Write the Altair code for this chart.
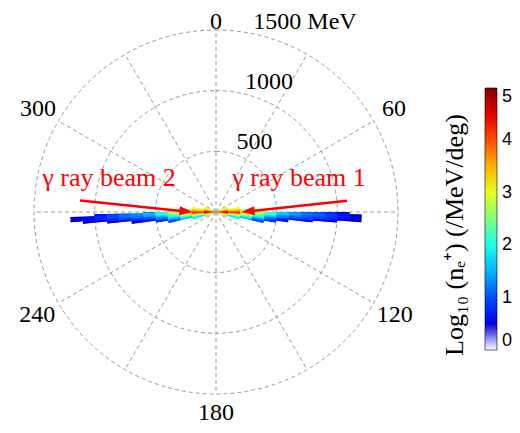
import altair as alt
import pandas as pd

# ---------------- data ----------------
# energy bins (MeV, radial) and angular bins (deg away from the beam axis, + = below horizontal)
E_EDGES = [0, 100, 200, 300, 400, 500, 600, 700, 800, 900, 1000, 1100, 1200]
D_EDGES = [-24, -12, -6, -3, 0, 1, 2, 3, 4, 5, 6, 8, 10, 13, 18, 26]

# log10(n_e+) per (energy bin row, angle bin column); 0 = empty
BEAM1_LOG10 = [  # right-hand lobe, beam axis at 90 deg
    [3.1, 3.7, 4.1, 4.4, 4.6, 4.7, 4.7, 4.6, 4.5, 4.4, 4.2, 3.9, 3.6, 3.2, 2.6],
    [0.0, 3.0, 3.5, 3.9, 4.2, 4.3, 4.2, 4.1, 3.9, 3.7, 3.3, 2.9, 2.4, 1.8, 0.0],
    [0.0, 0.0, 2.6, 3.2, 3.5, 3.6, 3.5, 3.3, 3.1, 2.9, 2.5, 2.1, 1.6, 0.0, 0.0],
    [0.0, 0.0, 0.0, 2.4, 2.8, 2.9, 2.7, 2.5, 2.3, 2.1, 1.8, 1.4, 1.0, 0.0, 0.0],
    [0.0, 0.0, 0.0, 0.0, 2.1, 2.2, 2.0, 1.8, 1.6, 1.4, 1.1, 0.8, 0.0, 0.0, 0.0],
    [0.0, 0.0, 0.0, 0.0, 1.6, 1.7, 1.5, 1.3, 1.2, 1.0, 0.7, 0.0, 0.0, 0.0, 0.0],
    [0.0, 0.0, 0.0, 0.0, 1.3, 1.4, 1.3, 1.1, 1.0, 0.7, 0.0, 0.0, 0.0, 0.0, 0.0],
    [0.0, 0.0, 0.0, 0.0, 1.1, 1.2, 1.1, 1.0, 0.9, 0.6, 0.0, 0.0, 0.0, 0.0, 0.0],
    [0.0, 0.0, 0.0, 0.0, 1.0, 1.1, 1.0, 0.9, 0.6, 0.0, 0.0, 0.0, 0.0, 0.0, 0.0],
    [0.0, 0.0, 0.0, 0.0, 0.8, 0.9, 0.9, 0.8, 0.5, 0.0, 0.0, 0.0, 0.0, 0.0, 0.0],
    [0.0, 0.0, 0.0, 0.0, 0.5, 0.7, 0.7, 0.5, 0.0, 0.0, 0.0, 0.0, 0.0, 0.0, 0.0],
    [0.0, 0.0, 0.0, 0.0, 0.0, 0.35, 0.45, 0.35, 0.0, 0.0, 0.0, 0.0, 0.0, 0.0, 0.0],
]
BEAM2_LOG10 = [  # left-hand lobe, beam axis at 270 deg
    [3.1, 3.7, 4.1, 4.4, 4.6, 4.7, 4.7, 4.6, 4.5, 4.4, 4.2, 3.9, 3.6, 3.2, 2.6],
    [0.0, 3.0, 3.5, 3.9, 4.2, 4.3, 4.2, 4.1, 3.9, 3.7, 3.3, 2.9, 2.4, 1.8, 0.0],
    [0.0, 0.0, 2.5, 3.2, 3.5, 3.6, 3.5, 3.3, 3.1, 2.9, 2.5, 2.1, 1.6, 0.0, 0.0],
    [0.0, 0.0, 0.0, 2.2, 2.7, 2.9, 2.7, 2.5, 2.3, 2.1, 1.8, 1.5, 1.0, 0.0, 0.0],
    [0.0, 0.0, 0.0, 0.0, 1.9, 2.1, 2.0, 1.8, 1.6, 1.4, 1.2, 0.8, 0.0, 0.0, 0.0],
    [0.0, 0.0, 0.0, 0.0, 1.3, 1.6, 1.5, 1.4, 1.2, 1.0, 0.7, 0.0, 0.0, 0.0, 0.0],
    [0.0, 0.0, 0.0, 0.0, 0.0, 1.3, 1.3, 1.2, 1.0, 0.9, 0.5, 0.0, 0.0, 0.0, 0.0],
    [0.0, 0.0, 0.0, 0.0, 0.0, 1.1, 1.2, 1.1, 0.9, 0.6, 0.0, 0.0, 0.0, 0.0, 0.0],
    [0.0, 0.0, 0.0, 0.0, 0.0, 0.9, 1.0, 0.9, 0.8, 0.5, 0.0, 0.0, 0.0, 0.0, 0.0],
    [0.0, 0.0, 0.0, 0.0, 0.0, 0.7, 0.8, 0.8, 0.5, 0.0, 0.0, 0.0, 0.0, 0.0, 0.0],
    [0.0, 0.0, 0.0, 0.0, 0.0, 0.0, 0.6, 0.6, 0.4, 0.0, 0.0, 0.0, 0.0, 0.0, 0.0],
    [0.0, 0.0, 0.0, 0.0, 0.0, 0.0, 0.3, 0.45, 0.0, 0.0, 0.0, 0.0, 0.0, 0.0, 0.0],
]

RINGS = [500, 1000, 1500]
RING_TEXT = ["500", "1000", "1500 MeV"]
SPOKE_ANGLES = [0, 30, 60, 90, 120, 150, 180, 210, 240, 270, 300, 330]
ANGLE_TICKS = [0, 60, 120, 180, 240, 300]
ANGLE_TICK_R = [1565, 1695, 1700, 1655, 1700, 1695]   # label distance from the pole (MeV units)
CBAR_TICKS = [0, 1, 2, 3, 4, 5]
CBAR_TITLE = "Log\u2081\u2080 (n\u2091\u207a) (/MeV/deg)"

# annotations, placed in MeV units of the polar frame (x right, y up)
BEAM_TEXT = ["\u03b3 ray beam 2", "\u03b3 ray beam 1"]
BEAM_TEXT_X = [-882, 684]
BEAM_TEXT_Y = [214, 214]
ARROW_X0 = [-1121, 1080]
ARROW_Y0 = [95, 93]
ARROW_X1 = [-247, 264]
ARROW_Y1 = [5, 5]
ARROW_ANGLE = [6.1, 173.9]

# jet colormap with white bottom
CMAP_STOPS = [0, 0.078, 0.079, 0.625, 1.875, 3.125, 4.375, 5]
CMAP_COLORS = ["#ffffff", "#ffffff", "#00008f", "#0000ff", "#00ffff", "#ffff00", "#ff0000", "#800000"]

# ---------------- build tables ----------------
cells = []
for grid, axis, sign in [(BEAM1_LOG10, 90, 1), (BEAM2_LOG10, 270, -1)]:
    for k, row in enumerate(grid):
        for b, v in enumerate(row):
            if v <= 0:
                continue
            a1 = axis + sign * D_EDGES[b]
            a2 = axis + sign * D_EDGES[b + 1]
            cells.append({"e0": E_EDGES[k], "e1": E_EDGES[k + 1],
                          "t0": min(a1, a2), "t1": max(a1, a2), "v": v})
heat_df = pd.DataFrame(cells)

rings_df = pd.DataFrame({"ring": RINGS, "a0": [0] * 3, "a1": [360] * 3, "txt": RING_TEXT})
spokes_df = pd.DataFrame({"a": SPOKE_ANGLES})
ticks_df = pd.DataFrame({"a": ANGLE_TICKS, "r": ANGLE_TICK_R})
beam_df = pd.DataFrame({"txt": BEAM_TEXT, "x": BEAM_TEXT_X, "y": BEAM_TEXT_Y})
arrow_df = pd.DataFrame({"x0": ARROW_X0, "y0": ARROW_Y0, "x1": ARROW_X1, "y1": ARROW_Y1, "ang": ARROW_ANGLE})
cbar_df = pd.DataFrame({"txt": [CBAR_TITLE], "x": [1970], "y": [-190]})

RMAX = 1500
R_PX = 182
SIDE = 2 * R_PX

theta_scale = alt.Scale(domain=[0, 360], range=[0, 6.283185307179586])
r_scale = alt.Scale(type="linear", domain=[0, RMAX], range=[0, R_PX], zero=True)
x_scale = alt.Scale(domain=[-RMAX, RMAX], nice=False, zero=False)
y_scale = alt.Scale(domain=[-RMAX, RMAX], nice=False, zero=False)
color_scale = alt.Scale(type="linear", domain=CMAP_STOPS, range=CMAP_COLORS, interpolate="rgb")

GRID = "#9a9a9a"
SERIF = "Liberation Serif"

rings = alt.Chart(rings_df).mark_arc(
    fillOpacity=0, stroke=GRID, strokeWidth=1, strokeDash=[4, 3]
).encode(
    theta=alt.Theta("a0:Q", scale=theta_scale, stack=False),
    theta2="a1:Q",
    radius=alt.Radius("ring:Q", scale=r_scale),
)

spokes = alt.Chart(spokes_df).transform_calculate(
    sx0="0", sy0="0",
    sx1=f"{RMAX}*sin(datum.a*PI/180)", sy1=f"{RMAX}*cos(datum.a*PI/180)",
).mark_rule(stroke=GRID, strokeWidth=1, strokeDash=[4, 3]).encode(
    x=alt.X("sx0:Q", scale=x_scale, axis=None),
    y=alt.Y("sy0:Q", scale=y_scale, axis=None),
    x2="sx1:Q", y2="sy1:Q",
)

heat_enc = dict(
    theta=alt.Theta("t0:Q", scale=theta_scale, stack=False),
    theta2="t1:Q",
    radius=alt.Radius("e1:Q", scale=r_scale),
    radius2="e0:Q",
    color=alt.Color("v:Q", scale=color_scale, legend=alt.Legend(
        type="gradient", orient="none", legendX=451, legendY=58, direction="vertical",
        gradientLength=262, gradientThickness=12, title="", values=CBAR_TICKS,
        labelFont="Liberation Sans", labelFontSize=18, labelColor="black",
        labelBaseline="middle", labelOffset=5, gradientStrokeColor="black",
        gradientStrokeWidth=0.6, padding=0)),
)
heat = alt.Chart(heat_df).mark_arc().encode(**heat_enc)
heat_again = alt.Chart(heat_df).mark_arc().encode(**heat_enc)  # second pass hides anti-alias seams

angle_labels = alt.Chart(ticks_df).transform_calculate(
    lx="datum.r*sin(datum.a*PI/180)", ly="datum.r*cos(datum.a*PI/180)",
).mark_text(fontSize=24, font=SERIF, align="center", baseline="middle", color="black").encode(
    x=alt.X("lx:Q", scale=x_scale, axis=None),
    y=alt.Y("ly:Q", scale=y_scale, axis=None),
    text="a:Q",
)

ring_labels = alt.Chart(rings_df).transform_calculate(
    lx="datum.ring*sin(8*PI/180)", ly="datum.ring*cos(8*PI/180)",
).mark_text(fontSize=24, font=SERIF, align="left", baseline="alphabetic", dx=12, dy=-3, color="black").encode(
    x=alt.X("lx:Q", scale=x_scale, axis=None),
    y=alt.Y("ly:Q", scale=y_scale, axis=None),
    text="txt:N",
)

arrows = alt.Chart(arrow_df).mark_rule(color="#ff0000", strokeWidth=2.5).encode(
    x=alt.X("x0:Q", scale=x_scale, axis=None),
    y=alt.Y("y0:Q", scale=y_scale, axis=None),
    x2="x1:Q", y2="y1:Q",
)

heads = alt.Chart(arrow_df).mark_point(
    shape="M1,0L-1,-0.7L-1,0.7Z", size=169, filled=True, color="#ff0000", opacity=1, strokeWidth=0
).encode(
    x=alt.X("x1:Q", scale=x_scale, axis=None),
    y=alt.Y("y1:Q", scale=y_scale, axis=None),
    angle=alt.Angle("ang:Q", scale=None),
)

beam_text = alt.Chart(beam_df).mark_text(
    fontSize=26, font=SERIF, color="#ff0000", align="center", baseline="alphabetic"
).encode(
    x=alt.X("x:Q", scale=x_scale, axis=None),
    y=alt.Y("y:Q", scale=y_scale, axis=None),
    text="txt:N",
)

cbar_title = alt.Chart(cbar_df).mark_text(
    fontSize=26, font=SERIF, color="black", align="center", baseline="middle", angle=270
).encode(
    x=alt.X("x:Q", scale=x_scale, axis=None),
    y=alt.Y("y:Q", scale=y_scale, axis=None),
    text="txt:N",
)

chart = alt.layer(
    rings, spokes, heat, heat_again, angle_labels, ring_labels, arrows, heads, beam_text, cbar_title
).properties(
    width=SIDE, height=SIDE,
    padding={"left": 26, "top": 22, "right": 114, "bottom": 31},
    autosize=alt.AutoSizeParams(type="none"),
).configure_view(stroke=None)

chart.save("out.html", embed_options={"renderer": "svg", "actions": False})
